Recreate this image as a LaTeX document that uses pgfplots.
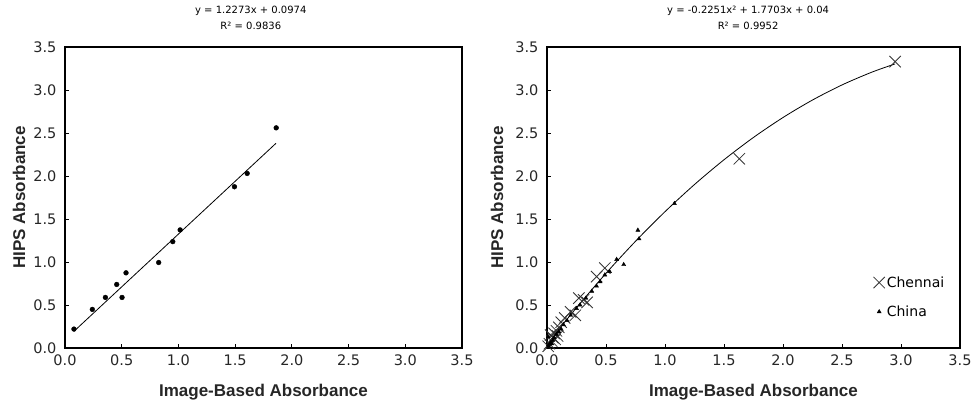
\documentclass[border=0pt]{standalone}
\usepackage{fontspec}
\usepackage{pgfplots}
\pgfplotsset{compat=1.18}
\setmainfont{DejaVu Sans}
\newfontfamily\arialf{Liberation Sans}

\pgfplotstableread{
x y
0.079 0.22
0.241 0.449
0.356 0.588
0.456 0.739
0.503 0.588
0.538 0.874
0.826 0.994
0.950 1.237
1.015 1.373
1.494 1.875
1.606 2.030
1.862 2.560
}\leftdata

\pgfplotstableread{
x y
2.95 3.33
1.63 2.20
0.49 0.93
0.42 0.83
0.31 0.56
0.27 0.58
0.34 0.53
0.24 0.38
0.20 0.42
0.15 0.35
0.12 0.30
0.10 0.24
0.08 0.20
0.06 0.17
0.05 0.12
0.04 0.08
0.03 0.15
0.02 0.05
0.07 0.10
0.09 0.14
0.01 0.02
}\chennai

\pgfplotstableread{
x y
1.08 1.68
0.77 1.37
0.78 1.27
0.65 0.97
0.59 1.03
0.53 0.89
0.49 0.85
0.45 0.77
0.42 0.72
0.38 0.66
0.33 0.58
0.28 0.50
0.25 0.46
0.20 0.38
0.17 0.32
0.14 0.27
0.12 0.22
0.10 0.19
0.08 0.16
0.06 0.12
0.05 0.09
0.03 0.06
0.02 0.04
0.01 0.13
0.015 0.02
0.04 0.05
}\china

\pgfplotsset{
  myaxis/.style={
    scale only axis,
    height=301pt,
    xmin=0, xmax=3.5, ymin=0, ymax=3.5,
    xtick={0,0.5,...,3.5}, ytick={0,0.5,...,3.5},
    tick align=inside, tick pos=left,
    major tick length=4pt,
    axis line style={line width=1.1pt},
    tick style={line width=0.8pt, black},
    /pgf/number format/assume math mode=true,
    /pgf/number format/fixed, /pgf/number format/fixed zerofill,
    /pgf/number format/precision=1,
    tick label style={font=\fontsize{14.5}{16}\selectfont, text=black!85},
    xticklabel style={yshift=-3pt},
    yticklabel style={xshift=-5pt},
    xlabel={Image-Based Absorbance},
    ylabel={HIPS Absorbance},
    label style={font=\arialf\bfseries\fontsize{17}{19}\selectfont, text=black!85},
    xlabel style={at={(axis description cs:0.5,-0.146)}, anchor=center},
    title style={align=center, font=\fontsize{10}{16}\selectfont, anchor=south, yshift=8pt},
  }
}

\begin{document}
\begin{tikzpicture}
\path[use as bounding box] (-65pt,-65pt) rectangle (914pt,348pt);
\begin{axis}[myaxis, at={(0pt,0pt)}, width=397pt,
  ylabel style={at={(axis description cs:-0.116,0.5)}, anchor=center},
  title={y = 1.2273x + 0.0974\\R² = 0.9836},
  title style={at={(axis description cs:0.468,1)}},
]
\addplot[only marks, mark=*, mark size=2.4pt, black] table {\leftdata};
\addplot[black, line width=0.8pt] coordinates {(0.08,0.1956) (1.86,2.3802)};
\end{axis}

\begin{axis}[myaxis, at={(482pt,0pt)}, width=413pt,
  ylabel style={at={(axis description cs:-0.121,0.5)}, anchor=center},
  title={y = -0.2251x² + 1.7703x + 0.04\\R² = 0.9952},
  title style={at={(axis description cs:0.487,1)}},
  legend style={draw=none, fill=none, at={(axis cs:2.74,0.88)}, anchor=north west,
    font=\fontsize{14}{16}\selectfont, row sep=13pt,
    legend cell align=left},
  legend image code/.code={\draw[#1] plot coordinates {(0.2cm,0cm)};},
]
\addplot[only marks, mark=x, mark size=8pt, black!80, line width=0.8pt] table {\chennai};
\addlegendentry{Chennai}
\addplot[only marks, mark=triangle*, mark size=2.3pt, black] table {\china};
\addlegendentry{China}
\addplot[black, line width=0.8pt, smooth, forget plot] coordinates {
(0,0.04) (0.1,0.2148) (0.25,0.4685) (0.5,0.8689) (0.75,1.2411) (1.0,1.5852)
(1.25,1.9012) (1.5,2.1890) (1.75,2.4487) (2.0,2.6802) (2.25,2.8836)
(2.5,3.0589) (2.75,3.2060) (2.95,3.3035)};
\end{axis}
\end{tikzpicture}
\end{document}
